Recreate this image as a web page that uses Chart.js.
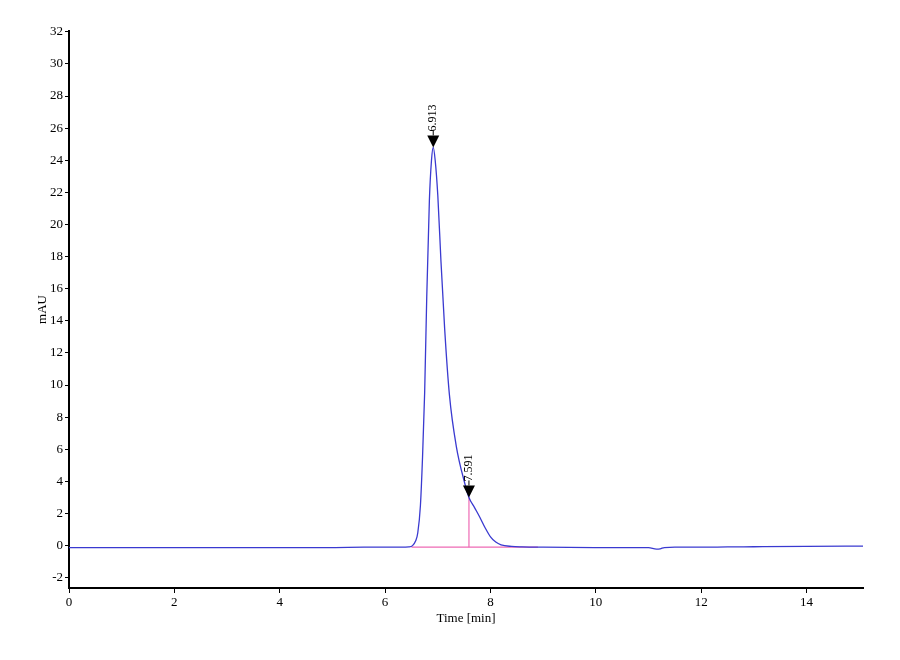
<!DOCTYPE html>
<html>
<head>
<meta charset="utf-8">
<script src="https://cdn.jsdelivr.net/npm/chart.js@4/dist/chart.umd.min.js"></script>
<style>
  html, body { margin: 0; padding: 0; background: #fff; }
  #wrap { width: 900px; height: 660px; }
</style>
</head>
<body>
<div id="wrap"><canvas id="chromChart"></canvas></div>
<script>
// chromatogram trace (time in min, signal in mAU)
const times = [0, 1, 2, 3, 4, 5, 5.6, 6.0, 6.3, 6.45, 6.52, 6.58, 6.62, 6.67, 6.71, 6.75,
  6.79, 6.84, 6.88, 6.913, 6.95, 7.0, 7.06, 7.13, 7.22, 7.35, 7.51, 7.591, 7.7, 7.8,
  7.9, 8.0, 8.1, 8.2, 8.4, 8.6, 9, 10, 11, 11.15, 11.22, 11.3, 11.5, 12, 12.5, 13, 14, 15.07];
const signal = [-0.12, -0.12, -0.12, -0.12, -0.12, -0.12, -0.1, -0.1, -0.1, -0.08, 0.0, 0.3, 0.8, 2.5, 5.5, 9.5,
  15.5, 21.5, 24.0, 24.8, 24.0, 21.8, 17.7, 13.5, 9.4, 6.2, 3.9, 3.0, 2.35, 1.75,
  1.1, 0.55, 0.22, 0.05, -0.05, -0.08, -0.1, -0.12, -0.12, -0.22, -0.2, -0.12, -0.1, -0.1, -0.08, -0.07, -0.05, -0.03];

// integrated peaks
const peakTimes = [6.913, 7.591];
const peakHeights = [24.8, 3.0];
const peakLabels = ['6.913', '7.591'];

// integration baseline and drop line
const baseStart = 6.5;
const baseEnd = 8.9;
const baseLevel = -0.1;

const xTicks = [0, 2, 4, 6, 8, 10, 12, 14];
const yTicks = [-2, 0, 2, 4, 6, 8, 10, 12, 14, 16, 18, 20, 22, 24, 26, 28, 30, 32];

const serif = '"Liberation Serif", "DejaVu Serif", serif';

const peakMarkers = {
  id: 'peakMarkers',
  afterDatasetsDraw(chart) {
    const c = chart.ctx;
    const xs = chart.scales.x, ys = chart.scales.y;
    peakTimes.forEach((t, i) => {
      const px = xs.getPixelForValue(t);
      const py = ys.getPixelForValue(peakHeights[i]);
      c.save();
      // triangle pointing down onto the peak
      c.fillStyle = '#000';
      c.beginPath();
      c.moveTo(px, py);
      c.lineTo(px - 6, py - 12);
      c.lineTo(px + 6, py - 12);
      c.closePath();
      c.fill();
      // stem
      c.strokeStyle = '#000';
      c.lineWidth = 1;
      c.beginPath();
      c.moveTo(px, py - 12);
      c.lineTo(px, py - 17);
      c.stroke();
      // rotated label
      c.translate(px, py - 16);
      c.rotate(-Math.PI / 2);
      c.font = '12px ' + serif;
      c.textAlign = 'left';
      c.textBaseline = 'middle';
      c.fillText(peakLabels[i], 0, 0);
      c.restore();
    });
  }
};

const ctx = document.getElementById('chromChart');
const chromChart = new Chart(ctx, {
  type: 'line',
  data: {
    datasets: [
      {
        // signal first so it sits above the pink lines
        data: times.map((t, i) => ({ x: t, y: signal[i] })),
        borderColor: '#3a3ad0',
        borderWidth: 1.3,
        pointRadius: 0,
        cubicInterpolationMode: 'monotone',
        order: 0
      },
      {
        data: [{ x: baseStart, y: baseLevel }, { x: baseEnd, y: baseLevel }],
        borderColor: '#ee6ab4',
        borderWidth: 1.2,
        pointRadius: 0,
        order: 1
      },
      {
        data: [{ x: peakTimes[1], y: baseLevel }, { x: peakTimes[1], y: peakHeights[1] }],
        borderColor: '#ee6ab4',
        borderWidth: 1.2,
        pointRadius: 0,
        order: 1
      }
    ]
  },
  options: {
    responsive: true,
    maintainAspectRatio: false,
    animation: false,
    layout: { padding: { top: 31, right: 37, left: 0, bottom: 0 } },
    plugins: {
      legend: { display: false },
      tooltip: { enabled: false }
    },
    scales: {
      x: {
        type: 'linear',
        min: 0,
        max: 15.07,
        afterBuildTicks: s => { s.ticks = xTicks.map(v => ({ value: v })); },
        afterFit: s => { s.height = 72; },
        border: { display: true, color: '#000', width: 2 },
        grid: { drawOnChartArea: false, drawTicks: true, tickLength: 5, color: '#000', lineWidth: 1 },
        ticks: { color: '#000', font: { family: serif, size: 13 }, padding: 2, maxRotation: 0 },
        title: {
          display: true,
          text: 'Time [min]',
          color: '#000',
          font: { family: serif, size: 13 },
          padding: { top: 0, bottom: 34 }
        }
      },
      y: {
        type: 'linear',
        min: -2.64,
        max: 32.05,
        afterBuildTicks: s => { s.ticks = yTicks.map(v => ({ value: v })); },
        afterFit: s => { s.width = 69; },
        border: { display: true, color: '#000', width: 2 },
        grid: { drawOnChartArea: false, drawTicks: true, tickLength: 4, color: '#000', lineWidth: 1 },
        ticks: { color: '#000', font: { family: serif, size: 13 }, padding: 2 },
        title: {
          display: true,
          text: 'mAU',
          color: '#000',
          font: { family: serif, size: 13 },
          padding: { top: 35, bottom: 0 }
        }
      }
    }
  },
  plugins: [peakMarkers]
});
</script>
</body>
</html>
